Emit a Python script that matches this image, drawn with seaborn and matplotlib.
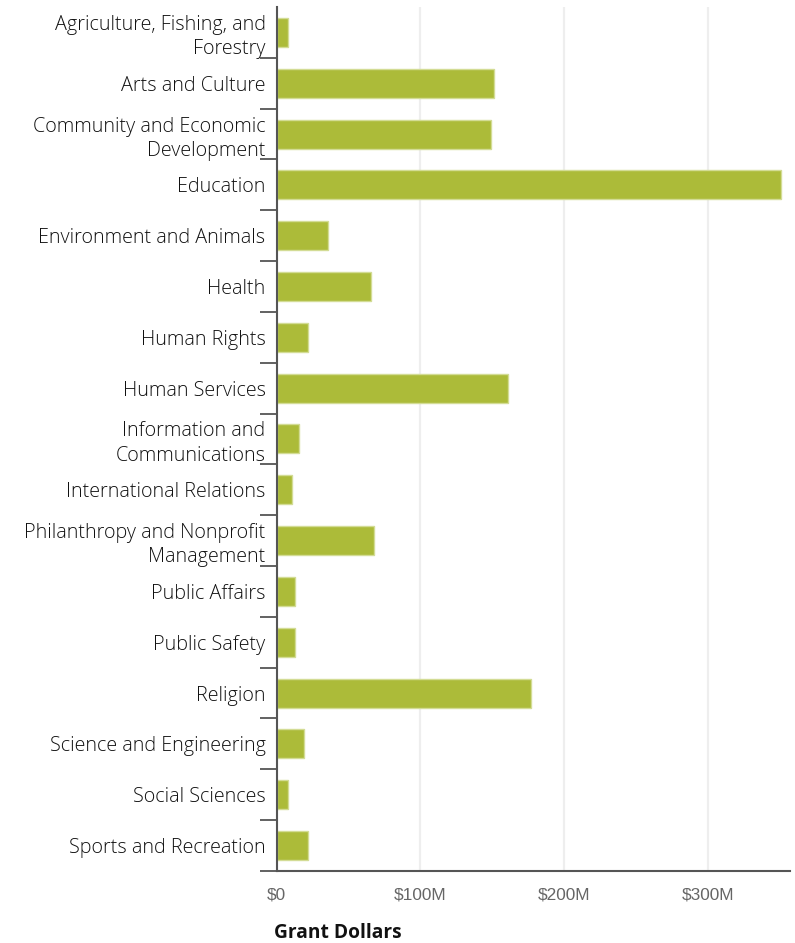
import matplotlib
matplotlib.use("Agg")
import matplotlib.pyplot as plt
from matplotlib.ticker import FuncFormatter, FixedLocator
import seaborn as sns
import pandas as pd

categories = [
    "Agriculture, Fishing, and\nForestry",
    "Arts and Culture",
    "Community and Economic\nDevelopment",
    "Education",
    "Environment and Animals",
    "Health",
    "Human Rights",
    "Human Services",
    "Information and\nCommunications",
    "International Relations",
    "Philanthropy and Nonprofit\nManagement",
    "Public Affairs",
    "Public Safety",
    "Religion",
    "Science and Engineering",
    "Social Sciences",
    "Sports and Recreation",
]
# grant dollars, in millions
grants = [7.8, 151.4, 148.8, 351.0, 35.8, 65.3, 21.7, 160.8, 15.3,
          10.6, 67.4, 12.5, 12.5, 176.6, 18.9, 7.8, 21.7]
x_ticks = [0, 100, 200, 300]

data = pd.DataFrame({"category": categories, "grants": grants})

sns.set_style("white")
plt.rcParams["font.family"] = ["Open Sans", "DejaVu Sans"]

fig = plt.figure(figsize=(7.95, 9.43), dpi=100)
ax = fig.add_axes([0.348, 0.0764, 0.6457, 0.9162])

sns.barplot(data, x="grants", y="category", orient="h", color="#acbb39",
            saturation=1, width=0.57, edgecolor="#d3dc95", linewidth=1, ax=ax)

ax.set_xlim(0, 357)
ax.set_ylim(len(categories) - 0.5, -0.5)

ax.xaxis.set_major_locator(FixedLocator(x_ticks))
ax.xaxis.set_major_formatter(FuncFormatter(lambda v, p: "$0" if v == 0 else f"${int(v)}M"))
ax.grid(axis="x", color="#eeeeee", linewidth=1.6)
ax.set_axisbelow(True)
ax.tick_params(axis="x", length=0, pad=12, labelsize=12.4, labelcolor="#666666")
for lab in ax.get_xticklabels():
    lab.set_family(["Liberation Sans", "DejaVu Sans"])

# category boundaries get the ticks, labels sit on the centers
ax.yaxis.set_major_locator(FixedLocator(range(len(categories))))
ax.yaxis.set_minor_locator(FixedLocator([i + 0.5 for i in range(len(categories))]))
ax.tick_params(axis="y", which="major", length=0, pad=8, labelsize=14.2, labelcolor="#111111")
ax.tick_params(axis="y", which="minor", length=12, width=1.3, color="#555555", left=True)
ax.set_yticklabels(categories, linespacing=1.28, fontweight=300)

for s in ["top", "right"]:
    ax.spines[s].set_visible(False)
ax.spines["left"].set_color("#555555")
ax.spines["left"].set_linewidth(1.5)
ax.spines["bottom"].set_color("#555555")
ax.spines["bottom"].set_linewidth(1.5)

ax.set_ylabel("")
ax.set_xlabel("Grant Dollars", fontsize=13.8, fontweight="bold", color="#111111",
              loc="left", labelpad=15)
ax.xaxis.label.set_x(-0.005)

fig.savefig("out.png", dpi=100)
